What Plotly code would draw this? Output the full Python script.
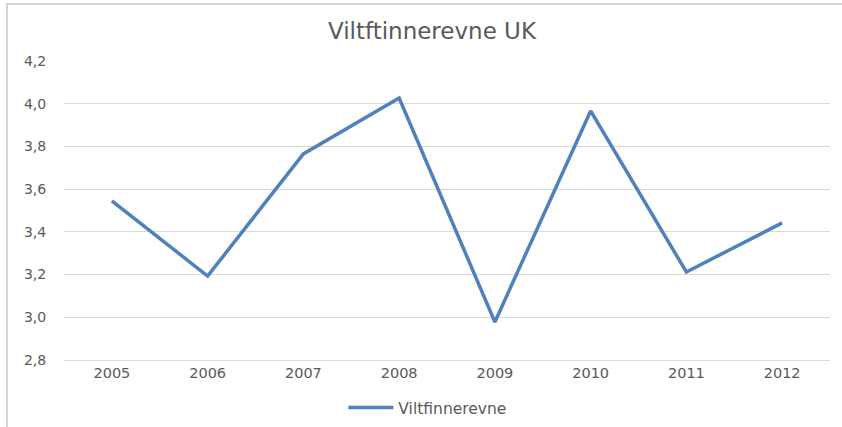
import plotly.graph_objects as go

years = ["2005", "2006", "2007", "2008", "2009", "2010", "2011", "2012"]
values = [3.545, 3.193, 3.765, 4.027, 2.978, 3.966, 3.212, 3.442]
y_ticks = [2.8, 3.0, 3.2, 3.4, 3.6, 3.8, 4.0, 4.2]
y_tick_labels = ["2,8", "3,0", "3,2", "3,4", "3,6", "3,8", "4,0", "4,2"]

W, H = 842, 427
L, R, T, B = 64, 12, 61, 67
pw, ph = W - L - R, H - T - B

def px(x):
    return (x - L) / pw

def py(y):
    return (H - B - y) / ph

fig = go.Figure()
fig.add_trace(go.Scatter(
    x=years, y=values, mode="lines", name="Viltfinnerevne",
    line=dict(color="#4F81BD", width=3.5),
))

font_family = "DejaVu Sans, Open Sans, sans-serif"
fig.update_layout(
    width=W, height=H,
    margin=dict(l=L, r=R, t=T, b=B, autoexpand=False),
    paper_bgcolor="white", plot_bgcolor="white",
    font=dict(family=font_family, color="#595959", size=14),
    title=dict(text="Viltftinnerevne UK", x=432 / W, xanchor="center",
               y=1 - 31 / H, yanchor="middle",
               font=dict(size=23, color="#595959", family=font_family)),
    showlegend=True,
    legend=dict(orientation="h", x=0.475, xanchor="center", y=py(408), yanchor="middle",
                font=dict(size=15.5, color="#595959"), bgcolor="rgba(0,0,0,0)",
                itemwidth=45),
    xaxis=dict(type="category", showgrid=False, showline=True, linecolor="#d9d9d9",
               linewidth=1, ticks="", tickfont=dict(size=14.5, color="#595959"),
               range=[-0.5, 7.5], fixedrange=True),
    yaxis=dict(range=[2.8, 4.2], tickvals=y_ticks, ticktext=y_tick_labels,
               showgrid=True, gridcolor="#d9d9d9", gridwidth=1, zeroline=False,
               showline=False, ticks="outside", ticklen=14, tickcolor="rgba(0,0,0,0)",
               tickfont=dict(size=14, color="#595959"), fixedrange=True),
)

fig.add_shape(type="line", xref="paper", yref="paper",
              x0=px(6), x1=px(W + 5), y0=py(4), y1=py(4),
              line=dict(color="#d4d4d4", width=2))
fig.add_shape(type="line", xref="paper", yref="paper",
              x0=px(7), x1=px(7), y0=py(3), y1=py(H + 5),
              line=dict(color="#d4d4d4", width=2))

fig.write_html("out.html", config={"displayModeBar": False},
               post_script="document.body.style.margin='0';document.body.style.overflow='hidden';")
